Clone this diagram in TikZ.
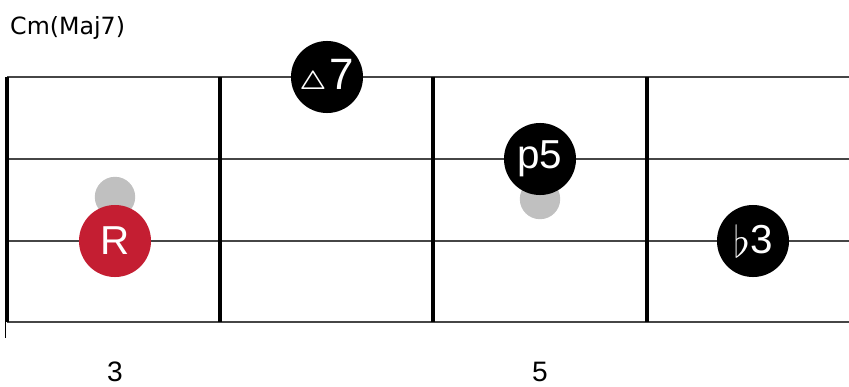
\documentclass[tikz,border=0pt]{standalone}
\usepackage{amsmath}
\usepackage{amssymb}
\usepackage{fontspec}
\setmainfont{Liberation Sans}
\newfontfamily\titlefont{DejaVu Sans}
\definecolor{rootred}{RGB}{196,30,50}
\definecolor{ghost}{RGB}{192,192,192}
\definecolor{stringgray}{RGB}{70,70,70}

\begin{document}
\begin{tikzpicture}[x=0.02cm, y=-0.02cm,
	stringline/.style={draw=stringgray, line width=0.6pt},
	fretline/.style={draw=black, line width=1.8pt},
	tone/.style={circle, fill=black, text=white, minimum size=41pt, inner sep=0pt, font=\fontsize{23}{23}\selectfont},
	root/.style={tone, fill=rootred},
	shadow/.style={circle, fill=ghost, minimum size=23pt, inner sep=0pt},
	fretnum/.style={inner sep=0pt, font=\fontsize{16}{16}\selectfont}]
	\useasboundingbox (0,0) rectangle (849,386);
	
	% Frame
	\coordinate (s1l) at (7,77);   \coordinate (s1r) at (849,77);
	\coordinate (s2l) at (7,159);  \coordinate (s2r) at (849,159);
	\coordinate (s3l) at (7,241);  \coordinate (s3r) at (849,241);
	\coordinate (s4l) at (7,322);  \coordinate (s4r) at (849,322);
	\coordinate (f2t) at (220,77); \coordinate (f2b) at (220,322);
	\coordinate (f3t) at (433,77); \coordinate (f3b) at (433,322);
	\coordinate (f4t) at (647,77); \coordinate (f4b) at (647,322);
	\coordinate (nt) at (5,115);   \coordinate (nb) at (5,338);
	
	% Strings
	\draw[stringline] (s1l) -- (s1r);
	\draw[stringline] (s2l) -- (s2r);
	\draw[stringline] (s3l) -- (s3r);
	\draw[stringline] (s4l) -- (s4r);
	
	% Frets
	\draw[line width=0.5pt] (nt) -- (nb);
	\draw[fretline] (s1l) -- (s4l);
	\draw[fretline] (f2t) -- (f2b);
	\draw[fretline] (f3t) -- (f3b);
	\draw[fretline] (f4t) -- (f4b);
	
	% Nodes
	\node[shadow] (g1) at (115,197) {};
	\node[shadow] (g2) at (540,199) {};
	\node[root] (R) at (115,241) {R};
	\node[tone] (maj7) at (327,77) {\scalebox{0.6}{$\boldsymbol{\triangle}$}\kern2pt\fontsize{25}{25}\selectfont 7};
	\node[tone] (p5) at (540,159) {p5};
	\node[tone] (b3) at (753,241) {\raisebox{-2pt}{$\flat$}3};
	
	% Labels
	\node[anchor=west, font=\titlefont\fontsize{13.5}{13.5}\selectfont] (title) at (4,28) {Cm(Maj7)};
	\node[fretnum] (fret3) at (115,372) {3};
	\node[fretnum] (fret5) at (540,372) {5};
\end{tikzpicture}
\end{document}
